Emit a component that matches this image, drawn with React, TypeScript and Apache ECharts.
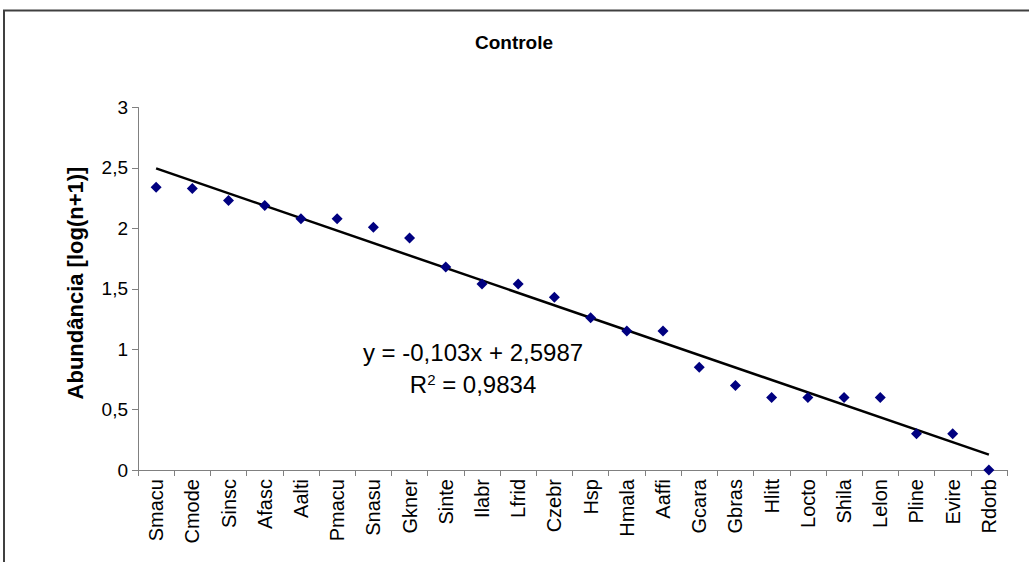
import React, { useEffect, useRef } from 'react';
import * as echarts from 'echarts';

const categories = ['Smacu', 'Cmode', 'Sinsc', 'Afasc', 'Aalti', 'Pmacu', 'Snasu', 'Gkner', 'Sinte', 'Ilabr', 'Lfrid', 'Czebr', 'Hsp', 'Hmala', 'Aaffi', 'Gcara', 'Gbras', 'Hlitt', 'Locto', 'Shila', 'Lelon', 'Pline', 'Evire', 'Rdorb'];
const values = [2.34, 2.33, 2.23, 2.19, 2.08, 2.08, 2.01, 1.92, 1.68, 1.54, 1.54, 1.43, 1.26, 1.15, 1.15, 0.85, 0.70, 0.60, 0.60, 0.60, 0.60, 0.30, 0.30, 0.00];
// trendline endpoints (first and last category)
const trendEnds = [2.496, 0.127];
const yTicks = { min: 0, max: 3, interval: 0.5 };
const titleText = 'Controle';
const yName = 'Abundância [log(n+1)]';
const eqLine1 = 'y = -0,103x + 2,5987';
const eqLine2 = 'R{sup|2} = 0,9834';

const FONT = '"Liberation Sans", Arial, sans-serif';

export default function App() {
  const ref = useRef<HTMLDivElement>(null);
  useEffect(() => {
    const chart = echarts.init(ref.current!, null, { renderer: 'svg' });
    chart.setOption({
      animation: false,
      backgroundColor: '#ffffff',
      textStyle: { fontFamily: FONT },
      grid: { left: 138, right: 22, top: 107.5, bottom: 92, containLabel: false },
      xAxis: {
        type: 'category',
        data: categories,
        boundaryGap: true,
        axisLine: { show: true, lineStyle: { color: '#808080', width: 1 } },
        axisTick: { show: true, interval: 0, alignWithLabel: false, length: 6, lineStyle: { color: '#808080' } },
        axisLabel: { interval: 0, rotate: 90, color: '#000', fontSize: 20, fontFamily: FONT, margin: 9 },
        splitLine: { show: false },
      },
      yAxis: {
        type: 'value',
        min: yTicks.min,
        max: yTicks.max,
        interval: yTicks.interval,
        axisLine: { show: true, lineStyle: { color: '#808080', width: 1 } },
        axisTick: { show: true, length: 6, lineStyle: { color: '#808080' } },
        axisLabel: {
          color: '#000',
          fontSize: 19,
          fontFamily: FONT,
          margin: 10,
          formatter: (v: number) => String(v).replace('.', ','),
        },
        splitLine: { show: false },
      },
      series: [
        {
          type: 'line',
          data: [
            [categories[0], trendEnds[0]],
            [categories[categories.length - 1], trendEnds[1]],
          ],
          symbol: 'none',
          lineStyle: { color: '#000', width: 2.5 },
          z: 1,
        },
        {
          type: 'scatter',
          data: values,
          symbol: 'diamond',
          symbolSize: 11,
          itemStyle: { color: '#000080', opacity: 1 },
          z: 2,
        },
      ],
      graphic: [
        {
          type: 'polyline',
          shape: { points: [[4, 562], [4, 10.5], [1029, 10.5]] },
          style: { stroke: '#404040', lineWidth: 2, fill: 'none' },
        },
        {
          type: 'text',
          x: 514,
          y: 42,
          style: { text: titleText, font: `bold 19px ${FONT}`, fill: '#000', align: 'center', verticalAlign: 'middle' },
        },
        {
          type: 'text',
          x: 75,
          y: 283,
          rotation: Math.PI / 2,
          style: { text: yName, font: `bold 22px ${FONT}`, fill: '#000', align: 'center', verticalAlign: 'middle' },
        },
        {
          type: 'text',
          x: 473,
          y: 352,
          style: { text: eqLine1, font: `24px ${FONT}`, fill: '#000', align: 'center', verticalAlign: 'middle' },
        },
        {
          type: 'text',
          x: 473,
          y: 384,
          style: {
            text: eqLine2,
            font: `24px ${FONT}`,
            fill: '#000',
            align: 'center',
            verticalAlign: 'middle',
            rich: { sup: { fontSize: 15, fontFamily: FONT, verticalAlign: 'top', padding: [0, 0, 9, 0] } },
          },
        },
      ],
    });
    return () => chart.dispose();
  }, []);
  return <div ref={ref} style={{ position: 'fixed', left: 0, top: 0, width: 1029, height: 562, background: '#fff' }} />;
}
